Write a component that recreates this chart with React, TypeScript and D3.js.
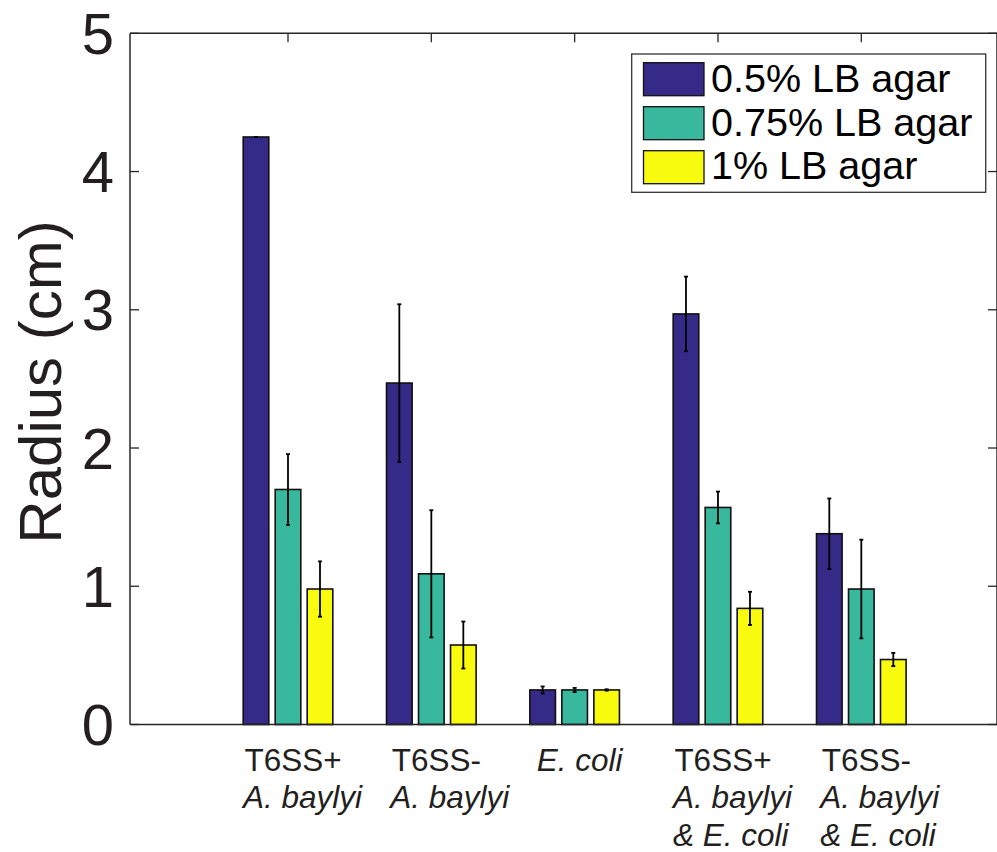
import * as d3 from "d3"

const groups = ["T6SS+ A. baylyi", "T6SS- A. baylyi", "E. coli", "T6SS+ A. baylyi & E. coli", "T6SS- A. baylyi & E. coli"]
const groupLines = [
  [{ t: "T6SS+", it: false }, { t: "A. baylyi", it: true }],
  [{ t: "T6SS-", it: false }, { t: "A. baylyi", it: true }],
  [{ t: "E. coli", it: true }],
  [{ t: "T6SS+", it: false }, { t: "A. baylyi", it: true }, { t: "& E. coli", it: true }],
  [{ t: "T6SS-", it: false }, { t: "A. baylyi", it: true }, { t: "& E. coli", it: true }],
]
const seriesNames = ["0.5% LB agar", "0.75% LB agar", "1% LB agar"]
const seriesColors = ["#352a87", "#38b99e", "#f9fb0e"]

// mean radius per group, one array per agar concentration
const agar05 = [4.25, 2.47, 0.25, 2.97, 1.38]
const agar075 = [1.70, 1.09, 0.25, 1.57, 0.98]
const agar1 = [0.98, 0.575, 0.25, 0.84, 0.47]
// error (half length of error bar)
const err05 = [0.0, 0.57, 0.025, 0.27, 0.255]
const err075 = [0.256, 0.46, 0.015, 0.115, 0.357]
const err1 = [0.2, 0.17, 0.005, 0.12, 0.048]

const yTicks = [0, 1, 2, 3, 4, 5]

const W = 997
const H = 852
const axL = 130
const axR = 997
const axT = 33.3
const axB = 724.5
const textCol = "#231f20"
const font = "'Liberation Sans', Arial, Helvetica, sans-serif"
const labelSize = 31.5

let measureCtx: CanvasRenderingContext2D | null = null
const textWidth = (s: string, italic: boolean) => {
  if (!measureCtx) measureCtx = document.createElement("canvas").getContext("2d")
  if (!measureCtx) return s.length * labelSize * 0.55
  measureCtx.font = `${italic ? "italic " : ""}${labelSize}px 'Liberation Sans', Arial, sans-serif`
  return measureCtx.measureText(s).width
}

export default function App() {
  const means = [agar05, agar075, agar1]
  const errs = [err05, err075, err1]

  const x = d3.scaleLinear().domain([1, 5]).range([288, 861.3])
  const y = d3.scaleLinear().domain([0, 5]).range([axB, axT])
  const offset = d3.scaleLinear().domain([0, 2]).range([-32, 32])
  const barW = 25.6

  const tickLen = 9

  return (
    <svg width={W} height={H} style={{ position: "absolute", left: 0, top: 0, background: "#fff" }}>
      <rect x={0} y={0} width={W} height={H} fill="#fff" />

      {/* tick marks */}
      <g stroke="#262626" strokeWidth={1.3}>
        {yTicks.map((t) => (
          <g key={"yt" + t}>
            <line x1={axL} x2={axL + tickLen} y1={y(t)} y2={y(t)} />
            <line x1={axR - tickLen} x2={axR} y1={y(t)} y2={y(t)} />
          </g>
        ))}
        {groups.map((g, i) => (
          <g key={"xt" + g}>
            <line x1={x(i + 1)} x2={x(i + 1)} y1={axT} y2={axT + tickLen} />
            <line x1={x(i + 1)} x2={x(i + 1)} y1={axB} y2={axB - tickLen} />
          </g>
        ))}
      </g>

      {/* bars */}
      {means.map((vals, s) => (
        <g key={"s" + s}>
          {vals.map((v, i) => {
            const cx = x(i + 1) + offset(s)
            return (
              <rect
                key={i}
                x={cx - barW / 2}
                y={y(v)}
                width={barW}
                height={y(0) - y(v)}
                fill={seriesColors[s]}
                stroke="#111"
                strokeWidth={1.6}
              />
            )
          })}
        </g>
      ))}

      {/* error bars */}
      <g stroke="#000" strokeWidth={1.8}>
        {means.map((vals, s) =>
          vals.map((v, i) => {
            const cx = x(i + 1) + offset(s)
            const e = errs[s][i]
            return (
              <g key={"e" + s + "-" + i}>
                <line x1={cx} x2={cx} y1={y(v + e)} y2={y(v - e)} />
                <line x1={cx - 2} x2={cx + 2} y1={y(v + e)} y2={y(v + e)} />
                <line x1={cx - 2} x2={cx + 2} y1={y(v - e)} y2={y(v - e)} />
              </g>
            )
          })
        )}
      </g>

      {/* axes box */}
      <g stroke="#262626" strokeWidth={1.5} fill="none">
        <line x1={axL} x2={axR} y1={axB} y2={axB} />
        <line x1={axL} x2={axR} y1={axT} y2={axT} />
        <line x1={axL} x2={axL} y1={axT} y2={axB} />
        <line x1={axR} x2={axR} y1={axT} y2={axB} />
      </g>

      {/* y tick labels */}
      <g fontFamily={font} fontSize={58} fill={textCol} textAnchor="end">
        {yTicks.map((t) => (
          <text key={t} x={114} y={y(t)} dy="0.355em">
            {t}
          </text>
        ))}
      </g>

      <text
        transform={`translate(61, 382) rotate(-90)`}
        textAnchor="middle"
        fontFamily={font}
        fontSize={60}
        fill={textCol}
      >
        Radius (cm)
      </text>

      {/* x group labels: first line centred a little right of the group, the rest left-aligned to it */}
      <g fontFamily={font} fontSize={labelSize} fill={textCol}>
        {groups.map((g, i) => {
          const first = groupLines[i][0]
          const left = x(i + 1) + 5 - textWidth(first.t, first.it) / 2
          return (
            <g key={g}>
              {groupLines[i].map((ln, j) => (
                <text key={j} x={left - (ln.it && !first.it ? 1.5 : 0)} y={770.7 + j * 37.6} fontStyle={ln.it ? "italic" : "normal"}>
                  {ln.t}
                </text>
              ))}
            </g>
          )
        })}
      </g>

      {/* legend */}
      <g>
        <rect x={631.7} y={54} width={354} height={138.3} fill="#fff" stroke="#333" strokeWidth={1.3} />
        {seriesNames.map((n, s) => (
          <g key={n}>
            <rect x={643.5} y={62.7 + s * 44} width={60.5} height={33} fill={seriesColors[s]} stroke="#111" strokeWidth={1.3} />
            <text x={711} y={92 + s * 43.6} fontFamily={font} fontSize={39.5} fill="#000">
              {n}
            </text>
          </g>
        ))}
      </g>
    </svg>
  )
}
